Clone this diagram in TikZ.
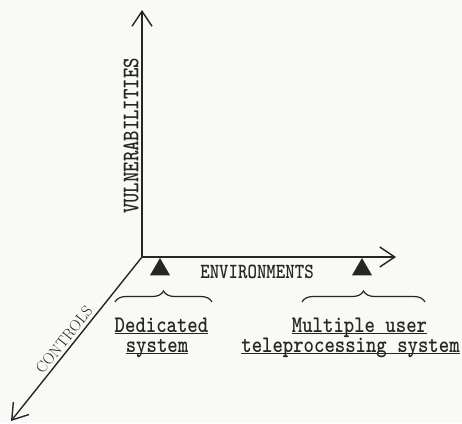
\documentclass[tikz,border=0pt]{standalone}
\usepackage{fontspec}
\usetikzlibrary{arrows.meta,decorations.pathreplacing,shapes.geometric}
\definecolor{ink}{RGB}{38,38,38}
\definecolor{paper}{RGB}{249,249,245}
\newcommand{\myul}[1]{\scalebox{1}[1.2]{\underline{\smash{#1}}}}
\newcommand{\tall}[1]{\scalebox{1}[1.2]{#1}}
\begin{document}
\begin{tikzpicture}[x=1pt,y=-1pt,
  axis/.style={draw=ink,line width=1.4pt,-{Straight Barb[length=15pt,width=20pt,line width=1.4pt]}},
  brc/.style={draw=ink,line width=1.2pt,decorate,decoration={brace,amplitude=11pt}},
  tri/.style={regular polygon,regular polygon sides=3,fill=ink,minimum size=23pt,inner sep=0pt},
  lbl/.style={text=ink,inner sep=0pt,font=\fontsize{19.8pt}{24pt}\selectfont\ttfamily\bfseries},
  axlbl/.style={text=ink,inner sep=0pt,font=\fontsize{18pt}{22pt}\selectfont\ttfamily\bfseries},
  sys/.style={text=ink,inner sep=0pt,anchor=base,font=\fontsize{19.8pt}{24pt}\selectfont\ttfamily\bfseries}
]
\fill[paper] (0,0) rectangle (462,423);
\useasboundingbox (0,0) rectangle (462,423);

\coordinate (o) at (142,257);
\coordinate (vtop) at (142,10);
\coordinate (hend) at (396,257);
\coordinate (dend) at (11,421);

\draw[axis] (o) -- (vtop);
\draw[axis] (o) -- (hend);
\draw[axis] (o) -- (dend);

\node[tri] (t1) at (160,269.5) {};
\node[tri] (t2) at (362,269.5) {};

\node[axlbl] (env) at (257,271.5) {\tall{ENVIRONMENTS}};
\node[lbl,rotate=90] (vul) at (131,136) {\tall{VULNERABILITIES}};
\node[text=ink,inner sep=0pt,rotate=51.4,font=\fontsize{15.5pt}{18pt}\selectfont\rmfamily] (ctl) at (64,340) {CONTROLS};

\coordinate (b1l) at (115,302);
\coordinate (b1r) at (212,302);
\coordinate (b2l) at (302,302);
\coordinate (b2r) at (425,302);
\draw[brc] (b1l) -- (b1r);
\draw[brc] (b2l) -- (b2r);

\node[sys] (d1) at (161.5,332) {\myul{Dedicated}};
\node[sys] (d2) at (157,352) {\myul{system}};
\node[sys] (m1) at (359.5,332) {\myul{Multiple user}};
\node[sys] (m2) at (350.5,352) {\myul{teleprocessing system}};
\end{tikzpicture}
\end{document}
